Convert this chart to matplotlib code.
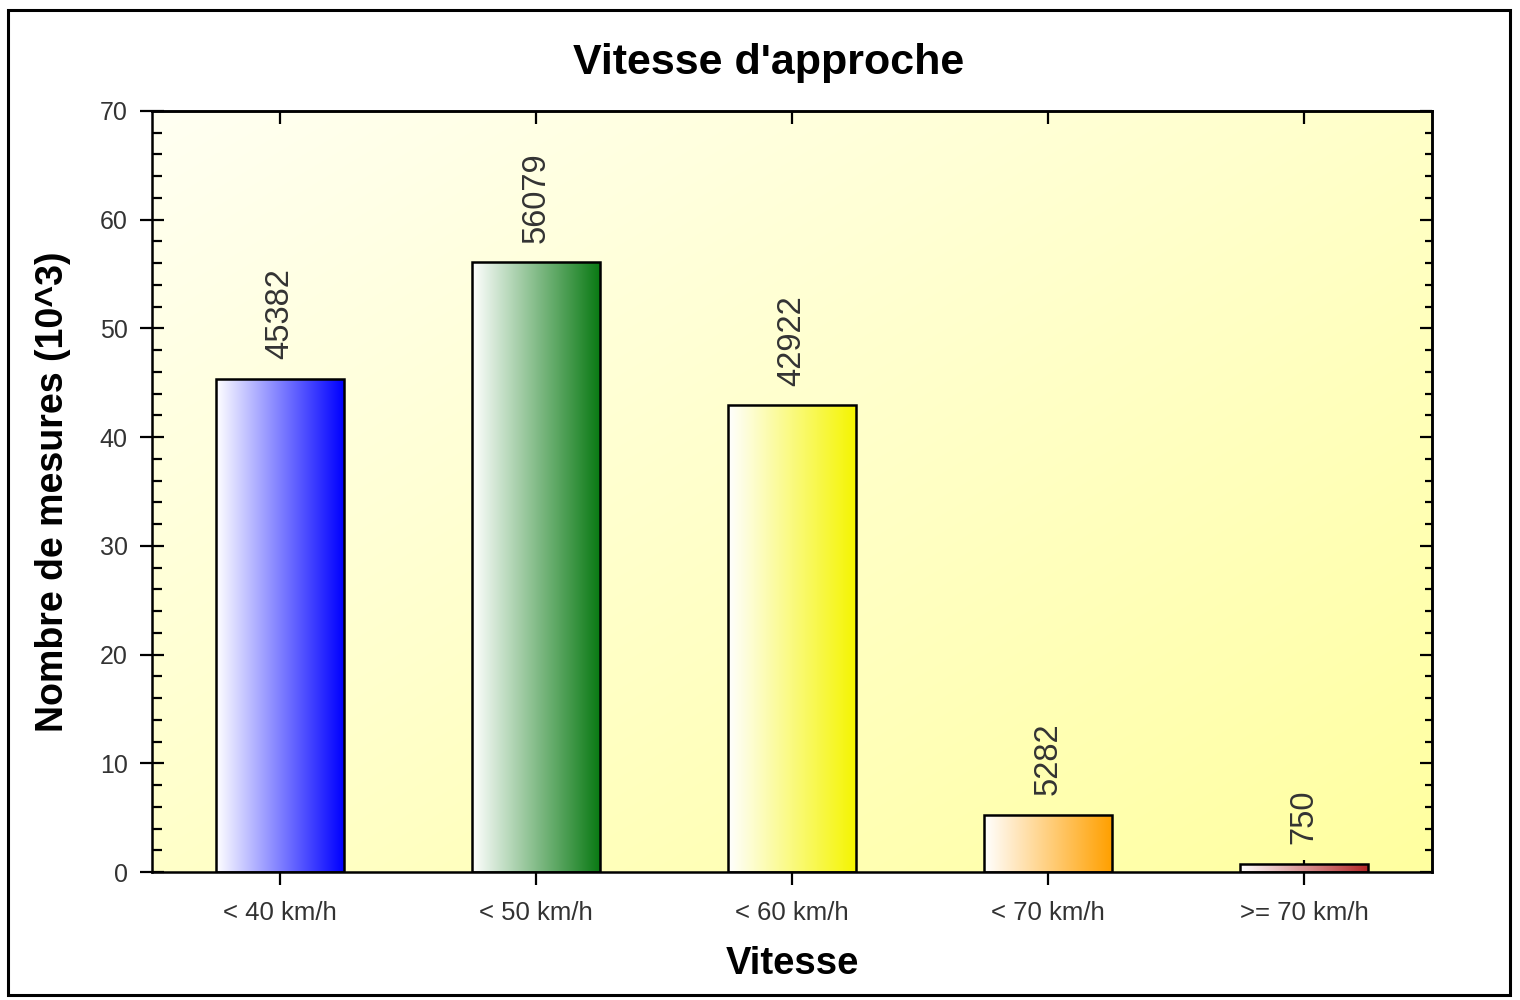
import matplotlib.pyplot as plt
import numpy as np
from matplotlib.patches import Rectangle
from matplotlib.ticker import MultipleLocator
from matplotlib.colors import LinearSegmentedColormap

# data
categories = ["< 40 km/h", "< 50 km/h", "< 60 km/h", "< 70 km/h", ">= 70 km/h"]
counts = [45382, 56079, 42922, 5282, 750]
bar_colors = ["#0000ff", "#0a7a14", "#f5f500", "#ffa000", "#b42828"]

plt.rcParams['font.family'] = ['Liberation Sans', 'DejaVu Sans']

fig = plt.figure(figsize=(15.2, 10), dpi=100)
ax = fig.add_axes([152/1520, 1 - 872/1000, 1280/1520, 761/1000])

# figure frame
fig.patches.append(Rectangle((8/1520, 5/1000), 1502/1520, 985/1000, transform=fig.transFigure,
                             fill=False, edgecolor='black', linewidth=2.2))

ax.set_xlim(-0.5, 4.5)
ax.set_ylim(0, 70)

# background gradient (pale top-left to yellow bottom-right)
gx, gy = np.meshgrid(np.linspace(0, 1, 200), np.linspace(0, 1, 200))
bg = (gx + (1 - gy)) / 2
bg_cmap = LinearSegmentedColormap.from_list("bg", ["#fffff2", "#ffffa0"])
ax.imshow(bg, extent=(-0.5, 4.5, 0, 70), cmap=bg_cmap, aspect='auto', zorder=0,
          origin='lower', interpolation='bilinear')
ax.set_ylim(0, 70)

vals = [c / 1000 for c in counts]
x = np.arange(len(categories))
bars = ax.bar(x, vals, width=0.5, facecolor='none', edgecolor='black', linewidth=1.8, zorder=3)

grad = np.linspace(0, 1, 256).reshape(1, -1)
for b, col in zip(bars, bar_colors):
    cm = LinearSegmentedColormap.from_list("g", ["#ffffff", col])
    x0, y0 = b.get_x(), b.get_y()
    im = ax.imshow(grad, extent=(x0, x0 + b.get_width(), y0, y0 + b.get_height()),
                   cmap=cm, aspect='auto', zorder=2, interpolation='bilinear')
    im.set_clip_path(b)

for xi, v, c in zip(x, vals, counts):
    ax.annotate(str(c), (xi, v), xytext=(0, 14), textcoords='offset points',
                ha='center', va='bottom', rotation=90, fontsize=23.5, color='#333333')

ax.set_xticks(x)
ax.set_xticklabels(categories, fontsize=18.5, color='#333333')
ax.yaxis.set_major_locator(MultipleLocator(10))
ax.yaxis.set_minor_locator(MultipleLocator(2))
for lab in ax.get_yticklabels():
    lab.set_fontsize(18)
    lab.set_color('#333333')

ax.tick_params(axis='y', which='major', direction='inout', length=17, width=1.6, pad=9)
ax.tick_params(axis='y', which='minor', direction='in', length=7, width=1.6)
ax.tick_params(axis='x', which='major', direction='inout', length=18, width=1.6, pad=12)

for s in ax.spines.values():
    s.set_linewidth(1.8)

# right and top ticks pointing inward
sec_y = ax.secondary_yaxis('right')
sec_y.yaxis.set_major_locator(MultipleLocator(10))
sec_y.yaxis.set_minor_locator(MultipleLocator(2))
sec_y.tick_params(axis='y', which='major', direction='in', length=9, width=1.6, labelright=False)
sec_y.tick_params(axis='y', which='minor', direction='in', length=5, width=1.6)
sec_y.spines['right'].set_linewidth(1.8)

sec_x = ax.secondary_xaxis('top')
sec_x.set_xticks(x)
sec_x.tick_params(axis='x', direction='in', length=9, width=1.6, labeltop=False)
sec_x.spines['top'].set_linewidth(1.8)

fig.text(769/1520, 1 - 63/1000, "Vitesse d'approche", fontsize=31, fontweight='bold',
         ha='center', va='center')
ax.set_xlabel("Vitesse", fontsize=27.5, fontweight='bold', labelpad=15)
ax.set_ylabel("Nombre de mesures (10^3)", fontsize=27, fontweight='bold', labelpad=21)

fig.savefig("out.png", dpi=100)
